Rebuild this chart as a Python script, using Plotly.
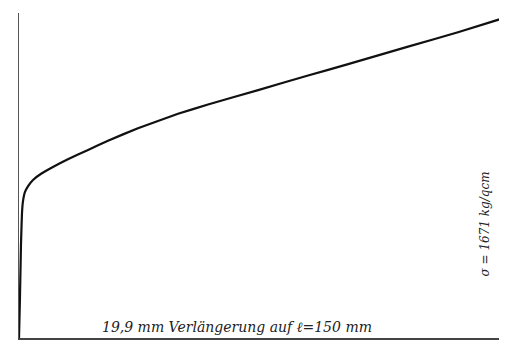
import plotly.graph_objects as go

# Stress-strain record
elongation_mm = [0, 0.04, 0.08, 0.12, 0.16, 0.24, 0.37, 0.57, 0.90, 1.38, 1.99, 2.81,
                 3.62, 4.84, 6.47, 7.69, 9.73, 11.76, 13.39, 15.83, 17.86, 19.9]
stress_kg_qcm = [0, 215, 484, 645, 709, 758, 790, 822, 854, 889, 930, 978,
                 1026, 1091, 1166, 1214, 1289, 1365, 1424, 1515, 1590, 1671]

x_label = "19,9 mm Verlängerung auf ℓ=150 mm"
y_label = "σ = 1671 kg/qcm"

fig = go.Figure()
fig.add_trace(go.Scatter(x=elongation_mm, y=stress_kg_qcm, mode="lines",
                         line=dict(color="#111111", width=2.2, shape="spline", smoothing=0.3),
                         showlegend=False, hoverinfo="skip"))

fig.update_layout(
    width=507, height=346,
    margin=dict(l=11, r=0, t=5, b=16),
    paper_bgcolor="white", plot_bgcolor="white",
    font=dict(family="DejaVu Serif", color="#222222"),
)
fig.update_xaxes(range=[0, 20.18], showgrid=False, zeroline=False, showticklabels=False,
                 ticks="", showline=True, linecolor="#444444", linewidth=1.5)
fig.update_yaxes(range=[0, 1690], showgrid=False, zeroline=False, showticklabels=False,
                 ticks="", showline=True, linecolor="#555555", linewidth=1.2)

fig.add_annotation(x=0.5, y=0, xref="paper", yref="paper", xanchor="center", yanchor="bottom",
                   yshift=1, xshift=-30, text=x_label, showarrow=False,
                   font=dict(size=14, style="italic", color="#222222"))
fig.add_annotation(x=0.94, y=0.35, xref="paper", yref="paper", xanchor="center", yanchor="middle",
                   text=y_label, textangle=-90, showarrow=False,
                   font=dict(size=12, style="italic", color="#222222"))

fig.write_html("out.html")
